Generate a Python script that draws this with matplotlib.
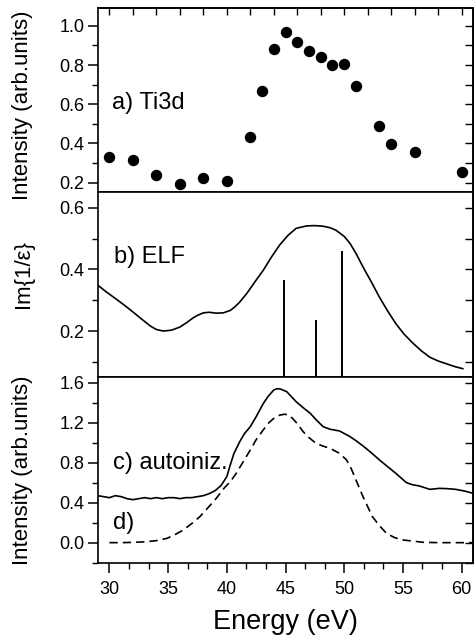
import matplotlib
matplotlib.use('Agg')
import matplotlib.pyplot as plt
from matplotlib.ticker import MultipleLocator, AutoMinorLocator

plt.rcParams['font.family'] = ['Liberation Sans', 'DejaVu Sans']
plt.rcParams['axes.linewidth'] = 1.2

# a) Ti3d intensity (dots)
ti_energy = [30, 32, 34, 36, 38, 40, 42, 43, 44, 45, 46, 47, 48, 49, 50, 51, 53, 54, 56, 60]
ti_int = [0.33, 0.315, 0.24, 0.19, 0.225, 0.21, 0.435, 0.67, 0.88, 0.97, 0.92, 0.87,
          0.84, 0.80, 0.805, 0.695, 0.49, 0.395, 0.355, 0.255]

# b) ELF curve and transition sticks
elf_energy = [29.0, 29.8, 30.6, 31.3, 32.0, 32.8, 33.5, 34.0, 34.6, 35.3, 36.0, 36.6, 37.1,
              37.5, 38.0, 38.5, 39.1, 39.7, 40.3, 40.7, 41.1, 41.7, 42.4, 43.1, 43.8, 44.5,
              45.2, 45.9, 46.8, 47.5, 48.2, 48.8, 49.3, 50.0, 50.5, 51.0, 51.6, 52.3, 53.0,
              53.7, 54.4, 55.1, 55.9, 56.6, 57.3, 58.0, 58.7, 59.4, 60.1]
elf_val = [0.349, 0.325, 0.303, 0.283, 0.262, 0.237, 0.216, 0.205, 0.200, 0.203, 0.213,
           0.228, 0.242, 0.251, 0.259, 0.261, 0.258, 0.259, 0.267, 0.279, 0.294, 0.322,
           0.360, 0.397, 0.440, 0.479, 0.510, 0.533, 0.541, 0.542, 0.540, 0.535, 0.527,
           0.507, 0.484, 0.452, 0.408, 0.360, 0.310, 0.265, 0.224, 0.190, 0.159, 0.135,
           0.115, 0.103, 0.094, 0.085, 0.078]
stick_energy = [44.9, 47.6, 49.8]
stick_height = [0.367, 0.235, 0.46]

# c) autoionization spectrum
c_energy = [29.0, 29.5, 30.0, 30.5, 31.0, 31.5, 32.0, 32.5, 33.0, 33.5, 34.0, 34.5, 35.0,
            35.5, 36.0, 36.5, 37.0, 37.5, 38.0, 38.5, 39.0, 39.5, 40.0, 40.3, 40.6, 41.1,
            41.5, 42.0, 42.5, 43.1, 43.5, 44.0, 44.3, 44.6, 45.1, 45.5, 45.9, 46.5, 47.1,
            47.6, 48.2, 48.8, 49.6, 50.5, 51.0, 51.6, 52.3, 53.0, 53.7, 54.4, 55.3, 55.8,
            56.4, 57.3, 58.1, 58.8, 59.5, 60.3, 61.0]
c_int = [0.47, 0.46, 0.45, 0.47, 0.46, 0.44, 0.43, 0.44, 0.45, 0.44, 0.45, 0.44, 0.45,
         0.45, 0.44, 0.45, 0.45, 0.46, 0.47, 0.49, 0.52, 0.57, 0.66, 0.78, 0.89, 1.01,
         1.09, 1.16, 1.26, 1.39, 1.46, 1.527, 1.54, 1.535, 1.51, 1.46, 1.41, 1.35, 1.294,
         1.23, 1.16, 1.134, 1.117, 1.06, 1.02, 0.967, 0.90, 0.827, 0.76, 0.693, 0.60, 0.58,
         0.567, 0.533, 0.543, 0.54, 0.533, 0.515, 0.493]

# d) calculated (dashed)
d_energy = [30.0, 31.0, 32.0, 33.0, 34.0, 34.9, 35.5, 36.3, 37.0, 37.7, 38.4, 39.1, 39.8,
            40.3, 40.8, 41.4, 42.0, 42.5, 43.1, 43.5, 44.0, 44.5, 44.9, 45.2, 45.6, 46.0,
            46.5, 47.0, 47.6, 48.2, 48.8, 49.6, 50.2, 50.6, 51.0, 51.6, 52.0, 52.4, 53.0,
            53.6, 54.3, 55.0, 56.7, 58.0, 61.0]
d_int = [0.0, 0.0, 0.003, 0.008, 0.02, 0.043, 0.075, 0.127, 0.19, 0.26, 0.35, 0.443, 0.55,
         0.61, 0.693, 0.81, 0.927, 1.03, 1.127, 1.19, 1.243, 1.275, 1.284, 1.28, 1.243,
         1.19, 1.11, 1.05, 0.993, 0.965, 0.943, 0.893, 0.827, 0.74, 0.627, 0.46, 0.36,
         0.26, 0.17, 0.093, 0.05, 0.027, 0.004, 0.0, 0.0]

fig = plt.figure(figsize=(4.75, 6.44), dpi=100)
left, width = 0.2057, 0.7908
ax_a = fig.add_axes([left, 0.7014, width, 0.2857])
ax_b = fig.add_axes([left, 0.4141, width, 0.2873], sharex=ax_a)
ax_c = fig.add_axes([left, 0.1263, width, 0.2879], sharex=ax_a)

tick_fs = 13
lab_fs = 16
ann_fs = 17

ax_a.plot(ti_energy, ti_int, 'o', color='black', markersize=7.2)
ax_b.plot(elf_energy, elf_val, '-', color='black', lw=1.2)
ax_b.vlines(stick_energy, 0, stick_height, color='black', lw=1.4)
ax_c.plot(c_energy, c_int, '-', color='black', lw=1.2)
ax_c.plot(d_energy, d_int, '--', color='black', lw=1.2, dashes=(5, 3))

ax_c.set_xlim(29, 61)
ax_a.set_ylim(0.15, 1.09)
ax_b.set_ylim(0.05, 0.65)
ax_c.set_ylim(-0.2, 1.654)

ax_a.yaxis.set_major_locator(MultipleLocator(0.2))
ax_a.yaxis.set_minor_locator(MultipleLocator(0.1))
ax_b.yaxis.set_major_locator(MultipleLocator(0.2))
ax_b.yaxis.set_minor_locator(MultipleLocator(0.1))
ax_c.yaxis.set_major_locator(MultipleLocator(0.4))
ax_c.yaxis.set_minor_locator(MultipleLocator(0.2))
ax_c.xaxis.set_major_locator(MultipleLocator(5))
ax_c.xaxis.set_minor_locator(AutoMinorLocator(3))

for ax, step in [(ax_a, 0.1), (ax_b, 0.1), (ax_c, 0.2)]:
    ax.tick_params(axis='y', which='major', direction='out', length=7, width=1.1,
                   labelsize=tick_fs, pad=2.5)
    ax.tick_params(axis='y', which='minor', direction='out', length=4, width=1.0)
    ax.yaxis.set_major_formatter(plt.FormatStrFormatter('%.1f'))
    sec = ax.secondary_yaxis('right')
    sec.yaxis.set_major_locator(MultipleLocator(step))
    sec.tick_params(direction='in', length=6, width=1.0, labelright=False)

for ax in (ax_a, ax_b):
    ax.tick_params(axis='x', which='both', bottom=False, labelbottom=False)

top = ax_a.secondary_xaxis('top')
top.xaxis.set_major_locator(MultipleLocator(2))
top.tick_params(direction='in', length=5, width=1.0, labeltop=False)

ax_c.tick_params(axis='x', which='major', direction='out', length=7, width=1.1,
                 labelsize=tick_fs, pad=6)
ax_c.tick_params(axis='x', which='minor', direction='out', length=4, width=1.0)
ax_c.set_xlabel('Energy (eV)', fontsize=19.5, labelpad=8)

ax_a.text(30.2, 0.606, 'a) Ti3d', fontsize=ann_fs, va='center')
ax_b.text(30.4, 0.44, 'b) ELF', fontsize=ann_fs, va='center')
ax_c.text(30.3, 0.794, 'c) autoiniz.', fontsize=ann_fs, va='center')
ax_c.text(30.3, 0.194, 'd)', fontsize=ann_fs, va='center')

fig.text(23 / 475, 1 - 105 / 644, 'Intensity (arb.units)', rotation=90,
         ha='center', va='center', fontsize=lab_fs)
fig.text(23 / 475, 1 - 274 / 644, 'Im{1/ε}', rotation=90,
         ha='center', va='center', fontsize=lab_fs)
fig.text(23 / 475, 1 - 470 / 644, 'Intensity (arb.units)', rotation=90,
         ha='center', va='center', fontsize=lab_fs)

fig.savefig('out.png', dpi=100)
